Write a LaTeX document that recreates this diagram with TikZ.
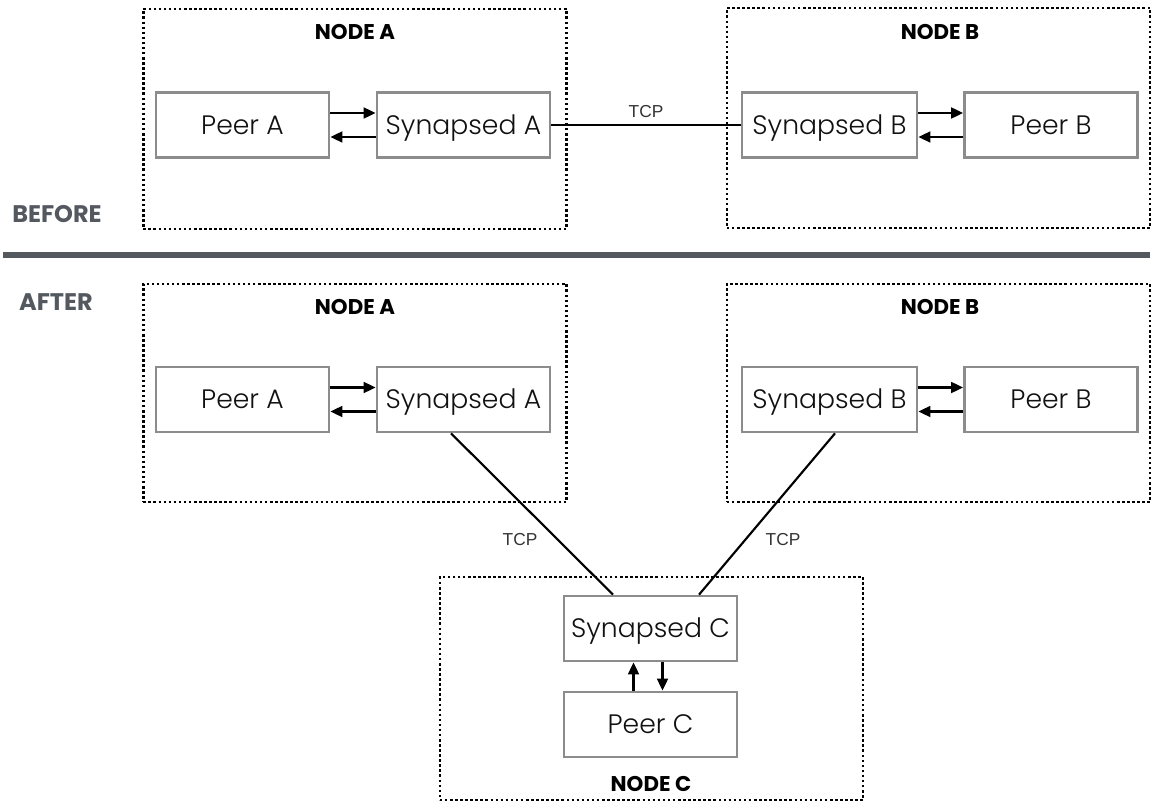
\documentclass[tikz,border=0pt]{standalone}
\usepackage{fontspec}
\setmainfont{Poppins}[UprightFont=* Light, BoldFont=* Bold]
\newfontfamily\tcpf{Liberation Sans}
\usetikzlibrary{arrows.meta,calc}
\definecolor{boxgray}{HTML}{8C8C8C}
\definecolor{labgray}{HTML}{54595F}
\definecolor{txt}{HTML}{111111}
\begin{document}
\begin{tikzpicture}[x=0.75pt,y=-0.75pt,
  box/.style={draw=boxgray, line width=2pt, fill=white, minimum width=129.75pt,
    minimum height=48.75pt, inner sep=0pt, text=txt, text height=14pt, text depth=0pt,
    font=\fontsize{20}{24}\selectfont},
  group/.style={draw=black, line width=1.9pt, dash pattern=on 1.9pt off 1.9pt,
    minimum width=317.5pt, minimum height=165pt, inner sep=0pt},
  grouplabel/.style={font=\bfseries\fontsize{16}{19}\selectfont, text=black},
  phase/.style={font=\bfseries\fontsize{18}{21}\selectfont, text=labgray},
  tcp/.style={font=\tcpf\fontsize{13}{15}\selectfont, text=black!80},
  arr/.style={line width=2pt, -{Triangle[length=9pt,width=8pt]}},
  link/.style={line width=1.6pt, black}]
\useasboundingbox (0,0) rectangle (1152,805);

% separator
\coordinate (sepL) at (3,255);
\coordinate (sepR) at (1150,255);
\draw[labgray, line width=4pt] (sepL) -- (sepR);
\node[phase] (before) at (57,214) {BEFORE};
\node[phase] (after) at (56,302) {AFTER};

% BEFORE
\node[group] (gA1) at (355,119) {};
\node[group] (gB1) at (938.5,118) {};
\node[grouplabel] (lA1) at (355,32) {NODE A};
\node[grouplabel] (lB1) at (940,32) {NODE B};
\node[box] (pA1) at (242.5,125) {Peer A};
\node[box] (sA1) at (463.5,125) {Synapsed A};
\node[box, minimum width=131.25pt] (sB1) at (829.5,125) {Synapsed B};
\node[box] (pB1) at (1051,125) {Peer B};
\draw[arr] ($(pA1.east)+(0,-12)$) -- ($(sA1.west)+(0,-12)$);
\draw[arr] ($(sA1.west)+(0,12)$) -- ($(pA1.east)+(0,12)$);
\draw[arr] ($(sB1.east)+(0,-12)$) -- ($(pB1.west)+(0,-12)$);
\draw[arr] ($(pB1.west)+(0,12)$) -- ($(sB1.east)+(0,12)$);
\draw[link] (sA1.east) -- node[tcp, above=1pt] {TCP} (sB1.west);

% AFTER
\node[group, minimum height=163.5pt] (gA2) at (355,393) {};
\node[group, minimum height=163.5pt] (gB2) at (938.5,393) {};
\node[grouplabel] (lA2) at (355,307) {NODE A};
\node[grouplabel] (lB2) at (940,307) {NODE B};
\node[box] (pA2) at (242.5,399.5) {Peer A};
\node[box] (sA2) at (463.5,399.5) {Synapsed A};
\node[box, minimum width=131.25pt] (sB2) at (829.5,399.5) {Synapsed B};
\node[box] (pB2) at (1051,399.5) {Peer B};
\draw[arr] ($(pA2.east)+(0,-12)$) -- ($(sA2.west)+(0,-12)$);
\draw[arr] ($(sA2.west)+(0,12)$) -- ($(pA2.east)+(0,12)$);
\draw[arr] ($(sB2.east)+(0,-12)$) -- ($(pB2.west)+(0,-12)$);
\draw[arr] ($(pB2.west)+(0,12)$) -- ($(sB2.east)+(0,12)$);

\node[group, minimum height=167pt] (gC) at (651.5,688.5) {};
\node[grouplabel] (lC) at (651,784) {NODE C};
\node[box] (sC) at (650.5,628.5) {Synapsed C};
\node[box] (pC) at (650.5,724.5) {Peer C};
\draw[arr] ($(pC.north)+(-17,0)$) -- ($(sC.south)+(-17,0)$);
\draw[arr] ($(sC.south)+(12,0)$) -- ($(pC.north)+(12,0)$);

\draw[link] ($(sA2.south)+(-12.5,0)$) -- ($(sC.north)+(-37.5,0)$);
\draw[link] ($(sB2.south)+(5.5,0)$) -- ($(sC.north)+(48.5,0)$);
\node[tcp] (tcpL) at (520,540) {TCP};
\node[tcp] (tcpR) at (783,540) {TCP};
\end{tikzpicture}
\end{document}
